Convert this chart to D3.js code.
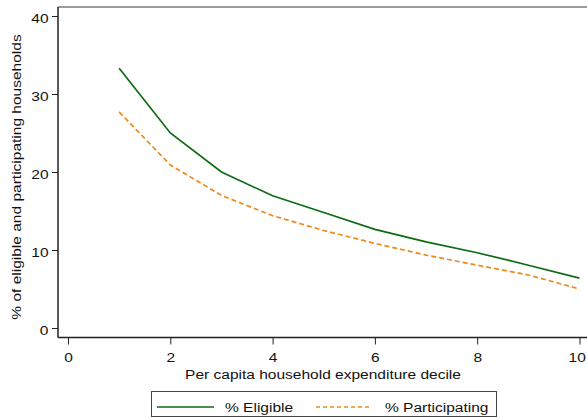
<!DOCTYPE html>
<html>
<head>
<meta charset="utf-8">
<script src="https://cdn.jsdelivr.net/npm/d3@7"></script>
<style>
  body { margin: 0; background: #fff; }
  svg { display: block; font-family: "Liberation Sans", Arial, sans-serif; }
</style>
</head>
<body>
<svg id="chart" width="587" height="417"></svg>
<script>
const deciles = [1, 2, 3, 4, 5, 6, 7, 8, 9, 10];
const eligible = [33.3, 25.0, 20.0, 16.95, 14.8, 12.65, 11.05, 9.65, 8.05, 6.4];
const participating = [27.7, 20.9, 17.0, 14.4, 12.5, 10.85, 9.35, 8.05, 6.8, 5.0];
const xTicks = [0, 2, 4, 6, 8, 10];
const yTicks = [0, 10, 20, 30, 40];
const seriesNames = ["% Eligible", "% Participating"];
const xTitle = "Per capita household expenditure decile";
const yTitle = "% of eligible and participating households";

const FS = 13.5;     // font size
const SX = 1.15;     // horizontal stretch of glyphs in the reference

const svg = d3.select("#chart");
const x = d3.scaleLinear().domain([0, 10]).range([68, 579.5]);
const y = d3.scaleLinear().domain([0, 40]).range([328, 16]);

const frameLeft = 58, frameTop = 7, frameBottom = 337.5, frameRight = 600;

// frame top line
svg.append("line").attr("x1", frameLeft).attr("x2", frameRight).attr("y1", frameTop).attr("y2", frameTop)
  .attr("stroke", "#7a7a7a").attr("stroke-width", 1.6);

// y axis
const yAxis = d3.axisLeft(y).tickValues(yTicks).tickSize(6).tickPadding(3).tickSizeOuter(0);
const gy = svg.append("g").attr("transform", `translate(${frameLeft},0)`).call(yAxis);
gy.select(".domain").remove();
gy.append("line").attr("x1", 0).attr("x2", 0).attr("y1", frameTop).attr("y2", frameBottom)
  .attr("stroke", "#222").attr("stroke-width", 1.5);
gy.selectAll(".tick line").attr("stroke", "#222");
gy.selectAll(".tick text").attr("font-size", FS).attr("fill", "#111")
  .attr("font-family", "Liberation Sans, Arial, sans-serif")
  .attr("x", -9.5 / SX).attr("dy", "0.45em")
  .attr("transform", `scale(${SX},1)`);

// x axis
const xAxis = d3.axisBottom(x).tickValues(xTicks).tickSize(7).tickPadding(8).tickSizeOuter(0);
const gx = svg.append("g").attr("transform", `translate(0,${frameBottom})`).call(xAxis);
gx.select(".domain").remove();
gx.append("line").attr("x1", frameLeft).attr("x2", frameRight).attr("y1", 0).attr("y2", 0)
  .attr("stroke", "#222").attr("stroke-width", 1.5);
gx.selectAll(".tick line").attr("stroke", "#222");
gx.selectAll(".tick text").attr("font-size", FS).attr("fill", "#111")
  .attr("font-family", "Liberation Sans, Arial, sans-serif")
  .attr("transform", `scale(${SX},1)`)
  .attr("dx", d => d === 10 ? -2.5 : 0);

// titles
svg.append("text").attr("transform", `translate(323,378.5) scale(${SX},1)`).attr("text-anchor", "middle")
  .attr("font-size", FS).attr("fill", "#111").text(xTitle);
svg.append("text").attr("transform", `translate(21,177) rotate(-90) scale(${SX},1)`).attr("text-anchor", "middle")
  .attr("font-size", FS).attr("fill", "#111").text(yTitle);

// lines
const line = d3.line().x((d, i) => x(deciles[i])).y(d => y(d));
svg.append("path").datum(eligible).attr("d", line).attr("fill", "none")
  .attr("stroke", "#0d6b12").attr("stroke-width", 1.7);
svg.append("path").datum(participating).attr("d", line).attr("fill", "none")
  .attr("stroke", "#ee8a1c").attr("stroke-width", 1.7).attr("stroke-dasharray", "5,3");

// legend
svg.append("rect").attr("x", 151.5).attr("y", 391.5).attr("width", 345).attr("height", 25)
  .attr("fill", "#fff").attr("stroke", "#444").attr("stroke-width", 1);
svg.append("line").attr("x1", 157).attr("x2", 214).attr("y1", 407).attr("y2", 407)
  .attr("stroke", "#0d6b12").attr("stroke-width", 1.7);
svg.append("text").attr("transform", `translate(225,412) scale(${SX},1)`)
  .attr("font-size", FS).attr("fill", "#111").text(seriesNames[0]);
svg.append("line").attr("x1", 316).attr("x2", 370).attr("y1", 407).attr("y2", 407)
  .attr("stroke", "#ee8a1c").attr("stroke-width", 1.7).attr("stroke-dasharray", "4,3");
svg.append("text").attr("transform", `translate(385,412) scale(${SX},1)`)
  .attr("font-size", FS).attr("fill", "#111").text(seriesNames[1]);
</script>
</body>
</html>
